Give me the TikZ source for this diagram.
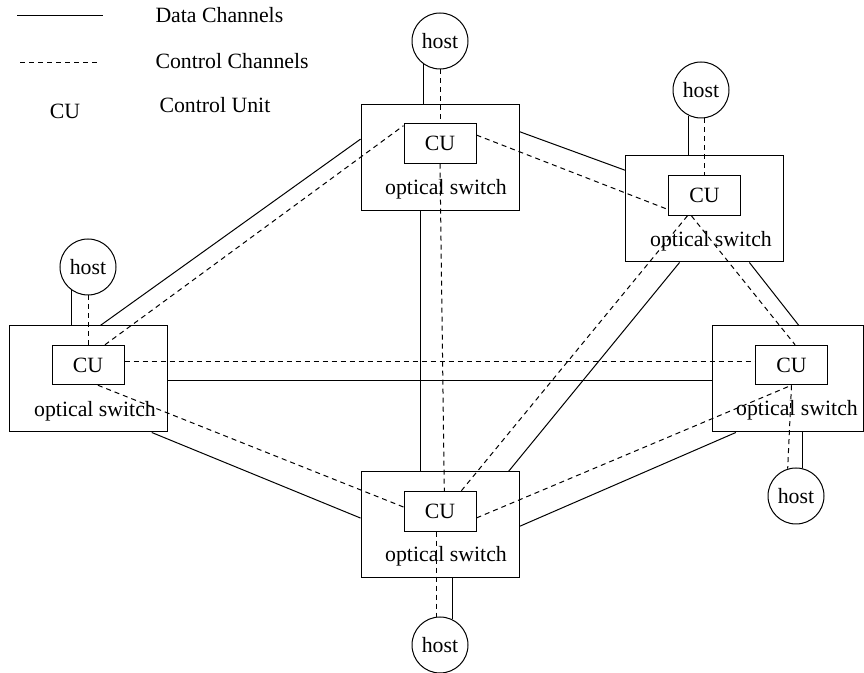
\documentclass[tikz,border=0pt]{standalone}
\usepackage{fontspec}
\setmainfont{Liberation Serif}
\begin{document}
\begin{tikzpicture}[x=0.5pt,y=-0.5pt,line width=0.5pt,
        every node/.style={font=\fontsize{10.9}{13}\selectfont},
        switchbox/.style={draw,minimum width=79pt,minimum height=53pt,inner sep=0pt},
        cubox/.style={draw,minimum width=36pt,minimum height=19.75pt,inner sep=0pt},
        hostnode/.style={draw,circle,minimum size=28pt,inner sep=0pt},
        txt/.style={inner sep=0pt},
        ctrl/.style={dash pattern=on 2.5pt off 2pt}]
        \useasboundingbox (0,0) rectangle (864,673);
        % legend
        \coordinate (dataA) at (17,16);
        \coordinate (dataB) at (103,16);
        \coordinate (ctrlA) at (20,63);
        \coordinate (ctrlB) at (100,63);
        \draw (dataA) -- (dataB);
        \draw[ctrl] (ctrlA) -- (ctrlB);
        \node[txt,anchor=west] (dataLeg) at (155,15) {Data Channels};
        \node[txt,anchor=west] (ctrlLeg) at (155,61.5) {Control Channels};
        \node[txt] (cuSym) at (65,111.5) {CU};
        \node[txt,anchor=west] (cuLeg) at (159,105) {Control Unit};
        % optical switches
        \node[switchbox] (swT) at (440,157.5) {};
        \node[switchbox] (swTR) at (704.5,209) {};
        \node[switchbox] (swL) at (88,379) {};
        \node[switchbox,minimum width=75.5pt] (swR) at (787.5,379) {};
        \node[switchbox] (swB) at (440,525) {};
        \node[txt,anchor=base] (labT) at (446,195) {optical switch};
        \node[txt,anchor=base] (labTR) at (711,247) {optical switch};
        \node[txt,anchor=base] (labL) at (95,417) {optical switch};
        \node[txt,anchor=base] (labR) at (797,416) {optical switch};
        \node[txt,anchor=base] (labB) at (446,562) {optical switch};
        % control units
        \node[cubox] (cuT) at (440,143.5) {CU};
        \node[cubox] (cuTR) at (704.5,195.5) {CU};
        \node[cubox] (cuL) at (88,365) {CU};
        \node[cubox] (cuR) at (791.5,365) {CU};
        \node[cubox] (cuB) at (440,511.5) {CU};
        % hosts
        \node[hostnode] (hostT) at (440,41) {host};
        \node[hostnode] (hostTR) at (701,90) {host};
        \node[hostnode] (hostL) at (88,267) {host};
        \node[hostnode] (hostR) at (796,496) {host};
        \node[hostnode] (hostB) at (440,645) {host};
        % data channels
        \draw (swL.77) -- (swT.167.5);
        \draw (swT.18) -- (swTR.154);
        \draw (swT.-110.5) -- (swT.-110.5 |- swB.north);
        \draw (swTR.-115) -- (swB.38);
        \draw (swTR.-50.6) -- (swR.78);
        \draw (swL.-1.5) -- (swL.-1.5 -| swR.west);
        \draw (swL.-40) -- (swB.175);
        \draw (swB.-1) -- (swR.-134);
        \draw (hostT.-125) -- (hostT.-125 |- swT.north);
        \draw (hostTR.-115) -- (hostTR.-115 |- swTR.north);
        \draw (hostL.-125) -- (hostL.-125 |- swL.north);
        \draw (hostR.76) -- (hostR.76 |- swR.south);
        \draw (hostB.65) -- (hostB.65 |- swB.south);
        % control channels
        \draw[ctrl] (cuL.50) -- (cuT.154);
        \draw[ctrl] (cuT.13) -- (cuTR.-159);
        \draw[ctrl] (cuT.south) -- (cuB.78);
        \draw[ctrl] (cuTR.-130) -- (cuB.44);
        \draw[ctrl] (cuTR.-123) -- (cuR.80);
        \draw[ctrl] (cuL.6) -- (cuL.6 -| cuR.west);
        \draw[ctrl] (cuL.-64) -- (cuB.173);
        \draw[ctrl] (cuB.-10) -- (cuR.south);
        \draw[ctrl] (hostT.south) -- (cuT.north);
        \draw[ctrl] (hostTR.-82) -- (hostTR.-82 |- cuTR.north);
        \draw[ctrl] (hostL.south) -- (cuL.north);
        \draw[ctrl] (cuR.south) -- (hostR.107);
        \draw[ctrl] (hostB.98 |- cuB.south) -- (hostB.98);
\end{tikzpicture}
\end{document}
